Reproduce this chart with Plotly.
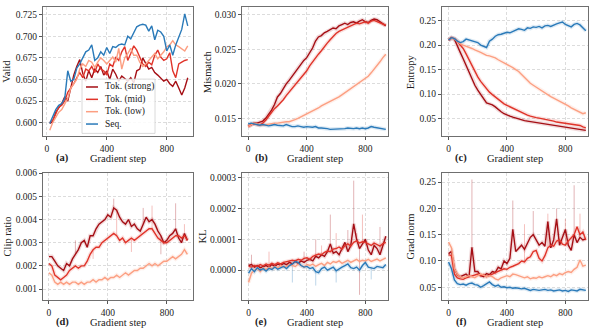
import plotly.graph_objects as go

# ---------------- data ----------------
steps_a = list(range(20, 941, 20))
steps = list(range(0, 941, 20))

series_names = ["Tok. (strong)", "Tok. (mid)", "Tok. (low)", "Seq."]

# (a) Valid
valid_strong = [0.599, 0.601, 0.612, 0.617, 0.622, 0.630, 0.625, 0.640, 0.655, 0.665, 0.673, 0.657,
                0.648, 0.660, 0.652, 0.662, 0.658, 0.665, 0.655, 0.660, 0.650, 0.662, 0.656, 0.648,
                0.654, 0.651, 0.648, 0.652, 0.646, 0.660, 0.662, 0.675, 0.668, 0.662, 0.664, 0.658,
                0.655, 0.651, 0.648, 0.650, 0.645, 0.642, 0.648, 0.640, 0.632, 0.640, 0.652]
valid_mid = [0.600, 0.603, 0.610, 0.618, 0.620, 0.625, 0.635, 0.640, 0.645, 0.652, 0.658, 0.652,
             0.662, 0.660, 0.665, 0.658, 0.668, 0.662, 0.660, 0.655, 0.668, 0.665, 0.676, 0.672,
             0.682, 0.688, 0.672, 0.680, 0.689, 0.684, 0.676, 0.668, 0.665, 0.670, 0.667, 0.678,
             0.684, 0.676, 0.672, 0.674, 0.681, 0.660, 0.652, 0.668, 0.670, 0.672, 0.673]
valid_low = [0.591, 0.600, 0.606, 0.612, 0.615, 0.622, 0.628, 0.640, 0.645, 0.650, 0.662, 0.668,
             0.665, 0.672, 0.670, 0.664, 0.670, 0.675, 0.672, 0.668, 0.672, 0.676, 0.670, 0.686,
             0.662, 0.675, 0.680, 0.686, 0.678, 0.678, 0.670, 0.665, 0.668, 0.672, 0.676, 0.680,
             0.674, 0.678, 0.682, 0.688, 0.690, 0.695, 0.690, 0.688, 0.685, 0.683, 0.689]
valid_seq = [0.599, 0.608, 0.615, 0.620, 0.622, 0.628, 0.660, 0.648, 0.650, 0.663, 0.668, 0.675,
             0.682, 0.684, 0.690, 0.672, 0.675, 0.682, 0.678, 0.687, 0.680, 0.688, 0.687, 0.690,
             0.691, 0.690, 0.700, 0.697, 0.705, 0.711, 0.713, 0.714, 0.713, 0.706, 0.712, 0.696,
             0.707, 0.705, 0.700, 0.683, 0.690, 0.678, 0.690, 0.700, 0.708, 0.726, 0.712]

# (b) Mismatch
mis_strong = [0.0138, 0.0141, 0.0143, 0.0143, 0.0144, 0.0146, 0.0150, 0.0156, 0.0162, 0.0170, 0.0181, 0.0186,
              0.0194, 0.0200, 0.0205, 0.0211, 0.0217, 0.0222, 0.0228, 0.0234, 0.0238, 0.0245, 0.0252, 0.0262,
              0.0268, 0.0270, 0.0274, 0.0276, 0.0278, 0.0281, 0.0280, 0.0284, 0.0286, 0.0288, 0.0286, 0.0289,
              0.0290, 0.0288, 0.0291, 0.0293, 0.0290, 0.0289, 0.0292, 0.0294, 0.0293, 0.0290, 0.0286, 0.0284]
mis_mid = [0.0138, 0.0141, 0.0142, 0.0141, 0.0140, 0.0143, 0.0147, 0.0153, 0.0159, 0.0164, 0.0168, 0.0172,
           0.0177, 0.0183, 0.0188, 0.0193, 0.0198, 0.0204, 0.0209, 0.0214, 0.0219, 0.0226, 0.0232, 0.0237,
           0.0243, 0.0248, 0.0254, 0.0259, 0.0264, 0.0269, 0.0273, 0.0276, 0.0278, 0.0281, 0.0283, 0.0285,
           0.0287, 0.0288, 0.0287, 0.0289, 0.0290, 0.0288, 0.0291, 0.0292, 0.0290, 0.0289, 0.0287, 0.0285]
mis_low = [0.0138, 0.0141, 0.0143, 0.0142, 0.0140, 0.0140, 0.0141, 0.0142, 0.0142, 0.0143, 0.0143, 0.0144,
           0.0144, 0.0145, 0.0145, 0.0146, 0.0148, 0.0150, 0.0152, 0.0154, 0.0156, 0.0159, 0.0161, 0.0163,
           0.0165, 0.0168, 0.0170, 0.0172, 0.0174, 0.0176, 0.0178, 0.0181, 0.0184, 0.0187, 0.0190, 0.0193,
           0.0197, 0.0200, 0.0203, 0.0206, 0.0208, 0.0211, 0.0216, 0.0221, 0.0226, 0.0232, 0.0238, 0.0243]
mis_seq = [0.0142, 0.0143, 0.0142, 0.0141, 0.0140, 0.0141, 0.0140, 0.0139, 0.0140, 0.0141, 0.0140, 0.0139,
           0.0139, 0.0141, 0.0139, 0.0138, 0.0138, 0.0139, 0.0138, 0.0137, 0.0138, 0.0137, 0.0137, 0.0138,
           0.0136, 0.0136, 0.0136, 0.0135, 0.0134, 0.0134, 0.0134, 0.0135, 0.0134, 0.0135, 0.0136, 0.0135,
           0.0135, 0.0136, 0.0135, 0.0136, 0.0135, 0.0136, 0.0138, 0.0137, 0.0136, 0.0135, 0.0134, 0.0134]

# (c) Entropy
ent_strong = [0.210, 0.215, 0.212, 0.200, 0.185, 0.172, 0.158, 0.145, 0.130, 0.118, 0.108, 0.100,
              0.092, 0.082, 0.080, 0.078, 0.074, 0.068, 0.064, 0.060, 0.057, 0.055, 0.053, 0.051,
              0.049, 0.047, 0.046, 0.045, 0.044, 0.043, 0.042, 0.041, 0.040, 0.039, 0.038, 0.037,
              0.036, 0.035, 0.034, 0.034, 0.033, 0.032, 0.031, 0.030, 0.029, 0.028, 0.027, 0.026]
ent_mid = [0.210, 0.214, 0.213, 0.208, 0.200, 0.193, 0.182, 0.170, 0.158, 0.145, 0.135, 0.126,
           0.118, 0.110, 0.104, 0.099, 0.094, 0.089, 0.084, 0.080, 0.077, 0.074, 0.071, 0.068,
           0.065, 0.062, 0.059, 0.057, 0.055, 0.053, 0.052, 0.051, 0.050, 0.049, 0.048, 0.046,
           0.045, 0.043, 0.042, 0.042, 0.041, 0.040, 0.039, 0.038, 0.037, 0.036, 0.033, 0.031]
ent_low = [0.210, 0.214, 0.212, 0.207, 0.203, 0.200, 0.198, 0.195, 0.193, 0.190, 0.188, 0.185,
           0.182, 0.179, 0.178, 0.176, 0.174, 0.170, 0.167, 0.164, 0.160, 0.157, 0.154, 0.150,
           0.146, 0.140, 0.134, 0.127, 0.122, 0.118, 0.114, 0.110, 0.106, 0.103, 0.099, 0.095,
           0.092, 0.089, 0.086, 0.083, 0.080, 0.076, 0.072, 0.069, 0.066, 0.063, 0.060, 0.062]
ent_seq = [0.210, 0.215, 0.213, 0.208, 0.205, 0.207, 0.212, 0.210, 0.208, 0.206, 0.205, 0.200,
           0.197, 0.195, 0.208, 0.212, 0.218, 0.221, 0.222, 0.224, 0.226, 0.225, 0.228, 0.230,
           0.233, 0.232, 0.230, 0.235, 0.234, 0.237, 0.236, 0.238, 0.235, 0.239, 0.240, 0.238,
           0.241, 0.243, 0.245, 0.247, 0.242, 0.240, 0.237, 0.242, 0.244, 0.241, 0.234, 0.229]

# (d) Clip ratio
clip_strong = [0.0024, 0.0024, 0.0022, 0.0020, 0.0019, 0.0018, 0.0021, 0.0020, 0.0023, 0.0025, 0.0027, 0.0030,
               0.0031, 0.0028, 0.0033, 0.0033, 0.0036, 0.0038, 0.0039, 0.0040, 0.0042, 0.0041, 0.0045, 0.0044,
               0.0041, 0.0039, 0.0038, 0.0040, 0.0037, 0.0038, 0.0036, 0.0035, 0.0038, 0.0041, 0.0039, 0.0040,
               0.0038, 0.0035, 0.0033, 0.0030, 0.0031, 0.0033, 0.0034, 0.0036, 0.0032, 0.0030, 0.0034, 0.0031]
clip_mid = [0.0021, 0.0020, 0.0016, 0.0015, 0.0014, 0.0015, 0.0016, 0.0018, 0.0019, 0.0020, 0.0019, 0.0020,
            0.0020, 0.0022, 0.0025, 0.0027, 0.0028, 0.0028, 0.0030, 0.0031, 0.0032, 0.0033, 0.0034, 0.0033,
            0.0031, 0.0032, 0.0030, 0.0031, 0.0032, 0.0031, 0.0032, 0.0033, 0.0034, 0.0035, 0.0036, 0.0036,
            0.0034, 0.0032, 0.0031, 0.0030, 0.0030, 0.0031, 0.0032, 0.0033, 0.0033, 0.0032, 0.0033, 0.0031]
clip_low = [0.0017, 0.0016, 0.0013, 0.0012, 0.0013, 0.0012, 0.0013, 0.0012, 0.0013, 0.0013, 0.0012, 0.0013,
            0.0012, 0.0013, 0.0013, 0.0014, 0.0013, 0.0014, 0.0014, 0.0015, 0.0014, 0.0015, 0.0015, 0.0016,
            0.0015, 0.0016, 0.0017, 0.0016, 0.0017, 0.0018, 0.0018, 0.0019, 0.0019, 0.0020, 0.0021, 0.0020,
            0.0021, 0.0020, 0.0021, 0.0022, 0.0022, 0.0023, 0.0024, 0.0023, 0.0024, 0.0025, 0.0027, 0.0025]
clip_spike_steps = [180, 300, 440, 460, 560, 640, 700, 760, 860, 920]
clip_spike_vals = [0.0031, 0.0023, 0.0049, 0.0044, 0.0026, 0.0045, 0.0046, 0.0025, 0.0047, 0.0038]
clip_spike_series = [0, 1, 0, 1, 1, 0, 1, 0, 0, 1]

# (e) KL
kl_strong = [0.000015, 0.000018, 0.000010, 0.000015, 0.000008, 0.000012, 0.000015, 0.000010, 0.000018, 0.000012,
             0.000020, 0.000015, 0.000022, 0.000018, 0.000025, 0.000020, 0.000028, 0.000022, 0.000030, 0.000025,
             0.000032, 0.000035, 0.000030, 0.000045, 0.000040, 0.000050, 0.000045, 0.000060, 0.000085, 0.000055,
             0.000060, 0.000050, 0.000070, 0.000090, 0.000060, 0.000080, 0.000150, 0.000100, 0.000070, 0.000085,
             0.000100, 0.000065, 0.000050, 0.000080, 0.000070, 0.000050, 0.000080, 0.000110]
kl_mid = [0.000012, 0.000010, 0.000015, 0.000012, 0.000018, 0.000014, 0.000020, 0.000016, 0.000022, 0.000018,
          0.000024, 0.000020, 0.000025, 0.000028, 0.000030, 0.000032, 0.000030, 0.000035, 0.000032, 0.000038,
          0.000040, 0.000035, 0.000045, 0.000048, 0.000052, 0.000050, 0.000058, 0.000062, 0.000060, 0.000068,
          0.000070, 0.000075, 0.000068, 0.000080, 0.000085, 0.000078, 0.000090, 0.000095, 0.000088, 0.000092,
          0.000090, 0.000085, 0.000080, 0.000088, 0.000082, 0.000078, 0.000086, 0.000090]
kl_low = [-0.000040, -0.000010, 0.000000, 0.000005, -0.000005, 0.000008, 0.000002, 0.000010, 0.000005, 0.000012,
          0.000008, 0.000015, 0.000010, 0.000012, 0.000018, 0.000015, 0.000012, 0.000020, 0.000015, 0.000010,
          0.000018, 0.000015, 0.000020, 0.000012, 0.000018, 0.000022, 0.000015, 0.000025, 0.000020, 0.000028,
          0.000025, 0.000030, 0.000022, 0.000028, 0.000032, 0.000025, 0.000030, 0.000035, 0.000028, 0.000032,
          0.000030, 0.000035, 0.000028, 0.000032, 0.000036, 0.000030, 0.000035, 0.000040]
kl_seq = [-0.000010, 0.000005, -0.000005, 0.000008, 0.000000, 0.000005, -0.000003, 0.000006, 0.000002, 0.000010,
          0.000003, 0.000008, 0.000012, 0.000005, 0.000015, 0.000020, 0.000028, 0.000025, 0.000015, 0.000010,
          0.000012, 0.000005, 0.000008, -0.000005, -0.000008, 0.000005, 0.000010, 0.000000, 0.000005, 0.000010,
          -0.000002, 0.000005, 0.000010, 0.000015, 0.000020, 0.000008, 0.000005, 0.000010, 0.000000, 0.000015,
          0.000025, 0.000010, 0.000008, 0.000005, 0.000012, 0.000010, 0.000008, 0.000018]
kl_spike_steps = [20, 140, 380, 460, 500, 560, 600, 680, 720, 740, 760, 780, 900, 300, 460, 600, 840]
kl_spike_vals = [0.000050, 0.000060, 0.000060, 0.000100, 0.000080, 0.000180, 0.000120, 0.000130, 0.000290,
                 0.000120, -0.000080, 0.000180, 0.000140, -0.000040, -0.000050, -0.000040, -0.000030]
kl_spike_series = [0, 1, 0, 0, 1, 0, 1, 0, 0, 1, 0, 1, 0, 3, 3, 3, 3]

# (f) Grad norm
gn_strong = [0.114, 0.118, 0.085, 0.074, 0.070, 0.072, 0.075, 0.070, 0.126, 0.080, 0.080, 0.072,
             0.070, 0.076, 0.074, 0.080, 0.078, 0.088, 0.085, 0.100, 0.095, 0.105, 0.160, 0.118,
             0.125, 0.130, 0.122, 0.135, 0.145, 0.150, 0.140, 0.130, 0.135, 0.128, 0.175, 0.125,
             0.140, 0.180, 0.130, 0.145, 0.160, 0.130, 0.120, 0.150, 0.135, 0.145, 0.140, 0.142]
gn_mid = [0.112, 0.110, 0.075, 0.068, 0.066, 0.065, 0.068, 0.070, 0.072, 0.074, 0.075, 0.072,
          0.074, 0.070, 0.072, 0.075, 0.078, 0.080, 0.082, 0.085, 0.084, 0.088, 0.090, 0.092,
          0.095, 0.100, 0.098, 0.105, 0.108, 0.118, 0.120, 0.105, 0.100, 0.110, 0.125, 0.130,
          0.128, 0.138, 0.140, 0.132, 0.130, 0.138, 0.145, 0.150, 0.165, 0.150, 0.155, 0.140]
gn_low = [0.136, 0.125, 0.085, 0.075, 0.070, 0.068, 0.070, 0.072, 0.070, 0.068, 0.072, 0.075,
          0.073, 0.070, 0.072, 0.070, 0.066, 0.064, 0.068, 0.070, 0.072, 0.070, 0.075, 0.074,
          0.072, 0.070, 0.068, 0.070, 0.066, 0.068, 0.067, 0.070, 0.068, 0.070, 0.072, 0.070,
          0.074, 0.072, 0.076, 0.074, 0.078, 0.080, 0.078, 0.084, 0.088, 0.102, 0.090, 0.092]
gn_seq = [0.098, 0.085, 0.064, 0.057, 0.055, 0.056, 0.054, 0.057, 0.058, 0.055, 0.054, 0.050,
          0.053, 0.056, 0.060, 0.055, 0.052, 0.054, 0.050, 0.051, 0.049, 0.050, 0.048, 0.049,
          0.048, 0.047, 0.048, 0.046, 0.044, 0.046, 0.045, 0.044, 0.045, 0.046, 0.044, 0.045,
          0.043, 0.044, 0.045, 0.043, 0.044, 0.042, 0.045, 0.044, 0.043, 0.046, 0.045, 0.044]
gn_spike_steps = [160, 440, 520, 580, 680, 740, 800, 860, 900]
gn_spike_vals = [0.255, 0.215, 0.170, 0.195, 0.190, 0.200, 0.180, 0.244, 0.190]
gn_spike_series = [0, 0, 1, 0, 1, 0, 1, 0, 1]

# ---------------- style ----------------
W, H = 595, 332
FONT = "Liberation Serif"
colors = ["#a50f15", "#e0342a", "#fc9f82", "#2a7ab9"]


def px_x(p):
    return p / W


def px_y(p):
    return 1 - p / H


panels = [
    dict(x=steps_a, ys=[valid_strong, valid_mid, valid_low, valid_seq], ylabel="Valid", tag="(a)",
         box=(43, 193, 3, 134), xr=[-25, 975], yr=[0.584, 0.734],
         yticks=[0.600, 0.625, 0.650, 0.675, 0.700, 0.725], fmt=".3f", ylab_x=7),
    dict(x=steps, ys=[mis_strong, mis_mid, mis_low, mis_seq], ylabel="Mismatch", tag="(b)",
         box=(242, 388, 3, 134), xr=[-42, 955], yr=[0.01238, 0.03115],
         yticks=[0.015, 0.020, 0.025, 0.030], fmt=".3f", ylab_x=207.5),
    dict(x=steps, ys=[ent_strong, ent_mid, ent_low, ent_seq], ylabel="Entropy", tag="(c)",
         box=(442, 588, 3, 134), xr=[-45, 955], yr=[0.0138, 0.2776],
         yticks=[0.05, 0.10, 0.15, 0.20, 0.25], fmt=".2f", ylab_x=410.5),
    dict(x=steps, ys=[clip_strong, clip_mid, clip_low], ylabel="Clip ratio", tag="(d)",
         box=(43, 193, 171, 300), xr=[-40, 978], yr=[0.00051, 0.00601],
         yticks=[0.001, 0.002, 0.003, 0.004, 0.005, 0.006], fmt=".3f", ylab_x=7.8,
         spikes=(clip_spike_steps, clip_spike_vals, clip_spike_series)),
    dict(x=steps, ys=[kl_strong, kl_mid, kl_low, kl_seq], ylabel="KL", tag="(e)",
         box=(242, 388, 171, 300), xr=[-45, 955], yr=[-0.000098, 0.000315],
         yticks=[0.0, 0.0001, 0.0002, 0.0003], fmt=".4f", ylab_x=202.8,
         spikes=(kl_spike_steps, kl_spike_vals, kl_spike_series)),
    dict(x=steps, ys=[gn_strong, gn_mid, gn_low, gn_seq], ylabel="Grad norm", tag="(f)",
         box=(442, 588, 171, 300), xr=[-45, 955], yr=[0.025, 0.2675],
         yticks=[0.05, 0.10, 0.15, 0.20, 0.25], fmt=".2f", ylab_x=410.8,
         spikes=(gn_spike_steps, gn_spike_vals, gn_spike_series)),
]

fig = go.Figure()
annotations = []
shapes = []
layout_axes = {}

for i, p in enumerate(panels, start=1):
    xa = "x" if i == 1 else f"x{i}"
    ya = "y" if i == 1 else f"y{i}"
    x0, x1, y0, y1 = p["box"]

    # faint spread under the main lines
    if i > 1:
        for k, y in enumerate(p["ys"]):
            fig.add_trace(go.Scatter(
                x=p["x"], y=y, mode="lines", xaxis=xa, yaxis=ya,
                line=dict(color=colors[k], width=4), opacity=0.15,
                showlegend=False, hoverinfo="skip"
            ))
    if "spikes" in p:
        s_steps, s_vals, s_ser = p["spikes"]
        for s, v, k in zip(s_steps, s_vals, s_ser):
            base = p["ys"][k][p["x"].index(s)]
            fig.add_trace(go.Scatter(
                x=[s, s], y=[base, v], mode="lines", xaxis=xa, yaxis=ya,
                line=dict(color=colors[k], width=1), opacity=0.3,
                showlegend=False, hoverinfo="skip"
            ))
    for k, y in enumerate(p["ys"]):
        fig.add_trace(go.Scatter(
            x=p["x"], y=y, mode="lines", xaxis=xa, yaxis=ya,
            name=series_names[k],
            line=dict(color=colors[k], width=1.4),
            showlegend=False
        ))

    axis_common = dict(
        showline=True, mirror=True, linecolor="#6f6f6f", linewidth=1,
        ticks="outside", ticklen=3, tickwidth=0.8, tickcolor="#555555",
        showgrid=True, gridcolor="#dcdcdc", gridwidth=0.6, griddash="3px,2px",
        zeroline=False,
        tickfont=dict(family=FONT, size=9.5, color="#222222"),
    )
    layout_axes["xaxis" if i == 1 else f"xaxis{i}"] = dict(
        axis_common, domain=[px_x(x0), px_x(x1)], range=p["xr"],
        tickvals=[0, 400, 800], anchor=ya,
    )
    layout_axes["yaxis" if i == 1 else f"yaxis{i}"] = dict(
        axis_common, domain=[px_y(y1), px_y(y0)], range=p["yr"],
        tickvals=p["yticks"], tickformat=p["fmt"], anchor=xa,
    )

    # axis labels
    cx = (x0 + x1) / 2
    label_y = y1 + 22
    annotations.append(dict(
        x=px_x(cx), y=px_y(label_y), xref="paper", yref="paper",
        text="Gradient step", showarrow=False, xanchor="center", yanchor="middle",
        font=dict(family=FONT, size=10.5, color="#222222"),
    ))
    annotations.append(dict(
        x=px_x(x0 + 19), y=px_y(label_y), xref="paper", yref="paper",
        text=f"<b>{p['tag']}</b>", showarrow=False, xanchor="center", yanchor="middle",
        font=dict(family=FONT, size=10.5, color="#222222"),
    ))
    annotations.append(dict(
        x=px_x(p["ylab_x"]), y=px_y((y0 + y1) / 2), xref="paper", yref="paper",
        text=p["ylabel"], showarrow=False, textangle=-90,
        xanchor="center", yanchor="middle",
        font=dict(family=FONT, size=10.5, color="#222222"),
    ))

# legend drawn in panel (a)
shapes.append(dict(
    type="rect", xref="paper", yref="paper",
    x0=px_x(82), x1=px_x(155), y0=px_y(131), y1=px_y(76),
    fillcolor="rgba(255,255,255,0.85)", line=dict(color="#d0d0d0", width=0.8),
    layer="above",
))
for k, name in enumerate(series_names):
    ly = 84 + k * 12.5
    shapes.append(dict(
        type="line", xref="paper", yref="paper",
        x0=px_x(86), x1=px_x(98), y0=px_y(ly), y1=px_y(ly),
        line=dict(color=colors[k], width=1.5), layer="above",
    ))
    annotations.append(dict(
        x=px_x(103), y=px_y(ly), xref="paper", yref="paper",
        text=name, showarrow=False, xanchor="left", yanchor="middle",
        font=dict(family=FONT, size=9.5, color="#222222"),
    ))

fig.update_layout(
    width=W, height=H,
    margin=dict(l=0, r=0, t=0, b=0),
    paper_bgcolor="white",
    plot_bgcolor="white",
    showlegend=False,
    annotations=annotations,
    shapes=shapes,
    **layout_axes
)

# drop the default page margin so the figure sits at the window's corner
fig.write_html(
    "out.html",
    config={"displayModeBar": False},
    post_script="document.body.style.margin='0';document.body.style.overflow='hidden';"
)
